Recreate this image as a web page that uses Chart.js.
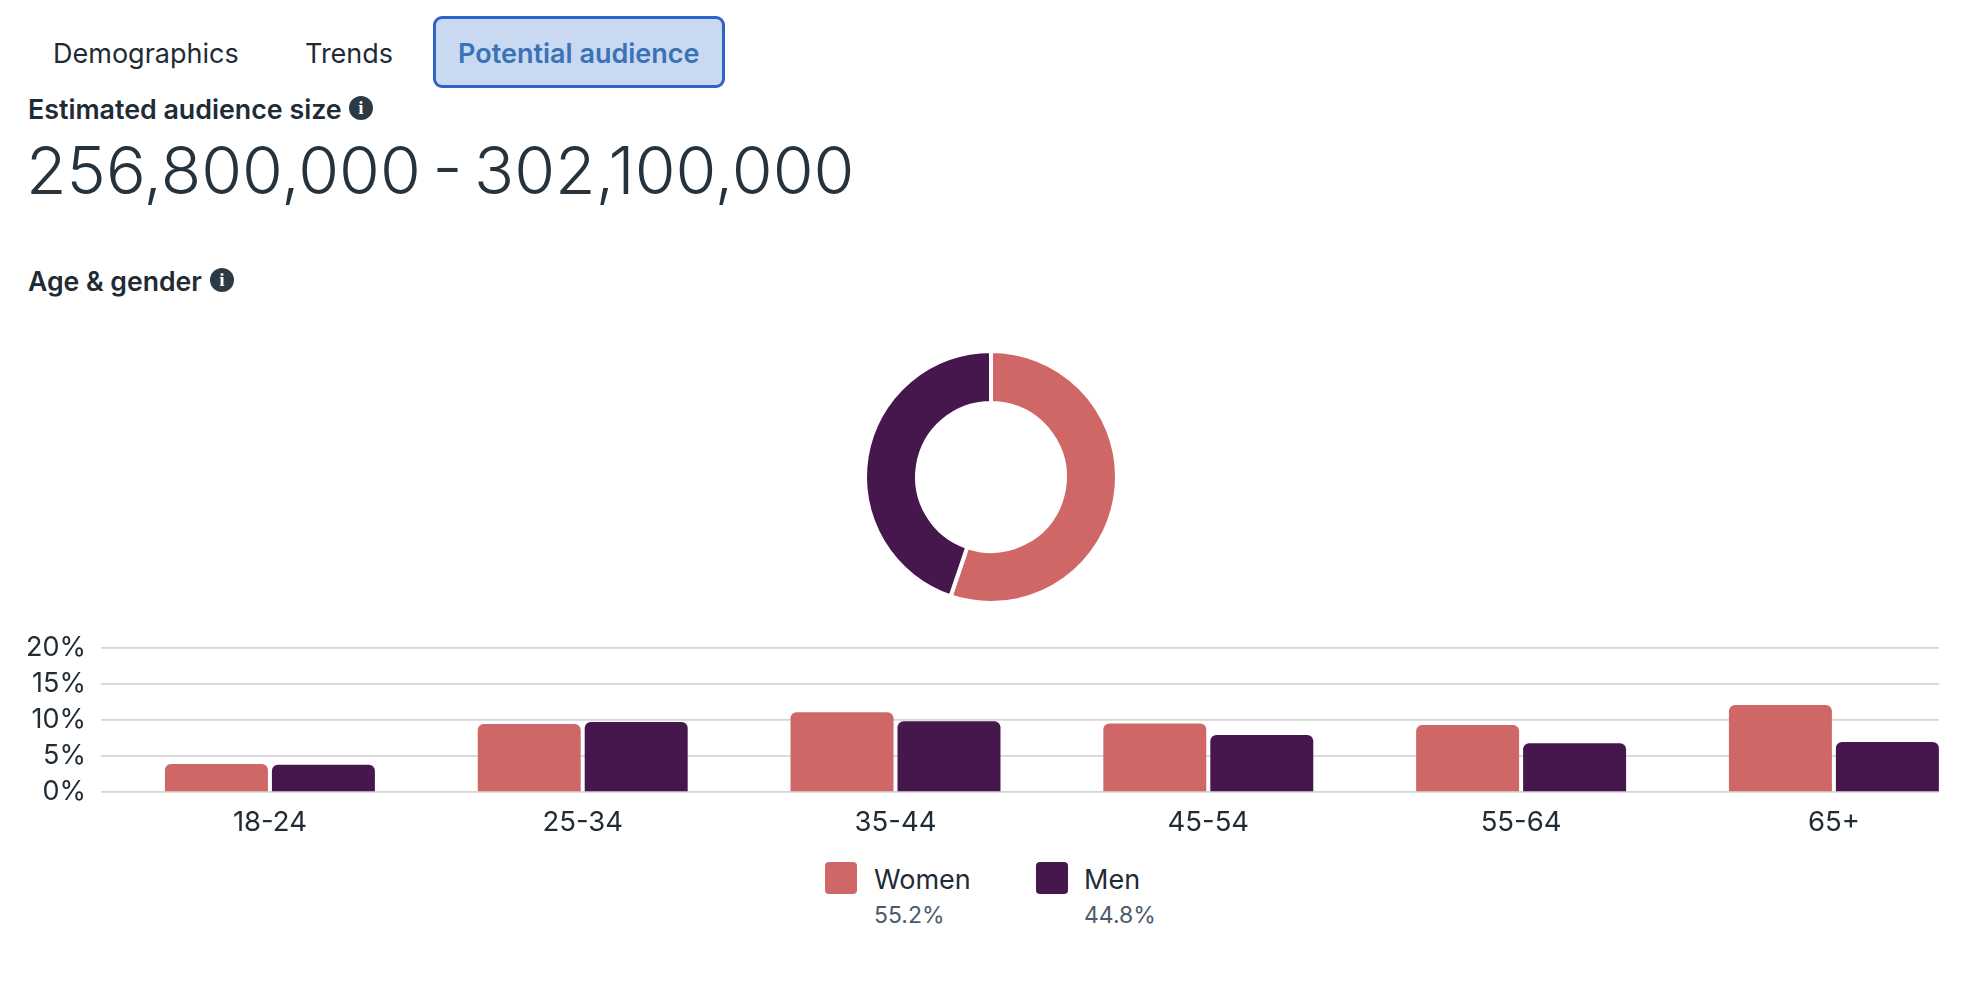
<!DOCTYPE html>
<html>
<head>
<meta charset="utf-8">
<script src="https://cdn.jsdelivr.net/npm/chart.js@4/dist/chart.umd.js"></script>
<style>
html,body{margin:0;padding:0;background:#fff;width:1986px;height:984px;overflow:hidden;font-family:Inter,sans-serif;color:#1f2b35}
.t{position:absolute;white-space:nowrap;line-height:1}
.tabbox{position:absolute;left:433px;top:16px;width:292px;height:72px;box-sizing:border-box;border:3.5px solid #2f63c8;border-radius:9px;background:#c8d9f1}
.info{position:absolute;width:24px;height:24px;border-radius:50%;background:#2b3a45;color:#fff;font:700 19px/24px "Liberation Serif",serif;text-align:center}
.sw{position:absolute;width:32px;height:32px;border-radius:4px}
canvas{display:block}
.cv{position:absolute}
</style>
</head>
<body>
<div class="tabbox"></div>
<span class="t" style="left:53px;top:40px;font-size:27px" id="tab0"></span>
<span class="t" style="left:305px;top:40px;font-size:27px" id="tab1"></span>
<span class="t" style="left:458px;top:40px;font-size:27px;font-weight:600;color:#3a72b6" id="tab2"></span>
<span class="t" style="left:28px;top:96px;font-size:26.8px;font-weight:600">Estimated audience size</span>
<span class="info" style="left:349px;top:96px">i</span>
<span class="t" style="left:26px;top:137px;font-size:66.2px;font-weight:350;word-spacing:-7px;color:#26333d">256,800,000 - 302,100,000</span>
<span class="t" style="left:28px;top:268px;font-size:26.6px;font-weight:600">Age &amp; gender</span>
<span class="info" style="left:210px;top:268px">i</span>

<div class="cv" style="left:841px;top:327px;width:300px;height:300px"><canvas id="donut"></canvas></div>
<div class="cv" style="left:0;top:620px;width:1986px;height:240px"><canvas id="bars"></canvas></div>

<span class="sw" style="left:825px;top:862px" id="sw0"></span>
<span class="t" style="left:874px;top:866px;font-size:27px" id="lg0"></span>
<span class="t" style="left:874px;top:904px;font-size:23px;color:#4b5b6c" id="pc0"></span>
<span class="sw" style="left:1036px;top:862px" id="sw1"></span>
<span class="t" style="left:1084px;top:866px;font-size:27px" id="lg1"></span>
<span class="t" style="left:1084px;top:904px;font-size:23px;color:#4b5b6c" id="pc1"></span>

<script>
const tabs = ["Demographics", "Trends", "Potential audience"];
const ageGroups = ["18-24", "25-34", "35-44", "45-54", "55-64", "65+"];
const women = [3.89, 9.44, 11.07, 9.53, 9.31, 12.08];
const men = [3.8, 9.72, 9.81, 7.92, 6.76, 6.94];
const genderNames = ["Women", "Men"];
const genderShare = [55.2, 44.8];
const genderColors = ["#cf6767", "#45174c"];
const yTicks = [0, 5, 10, 15, 20];

tabs.forEach((s, i) => document.getElementById("tab" + i).textContent = s);
genderNames.forEach((s, i) => {
  document.getElementById("lg" + i).textContent = s;
  document.getElementById("pc" + i).textContent = genderShare[i].toFixed(1) + "%";
  document.getElementById("sw" + i).style.background = genderColors[i];
});

Chart.defaults.font.family = "Inter, sans-serif";
Chart.defaults.animation = false;
Chart.defaults.events = [];

new Chart(document.getElementById("donut"), {
  type: "doughnut",
  data: {
    labels: genderNames,
    datasets: [{ data: genderShare, backgroundColor: genderColors, borderColor: "#ffffff", borderWidth: 4 }]
  },
  options: {
    responsive: true,
    maintainAspectRatio: false,
    radius: 126,
    cutout: "58.7%",
    plugins: { legend: { display: false }, tooltip: { enabled: false } }
  }
});

const topRound = { topLeft: 6, topRight: 6, bottomLeft: 0, bottomRight: 0 };
new Chart(document.getElementById("bars"), {
  type: "bar",
  data: {
    labels: ageGroups,
    datasets: [
      { label: genderNames[0], data: women, backgroundColor: genderColors[0], borderRadius: topRound, borderSkipped: false },
      { label: genderNames[1], data: men, backgroundColor: genderColors[1], borderRadius: topRound, borderSkipped: false }
    ]
  },
  options: {
    responsive: true,
    maintainAspectRatio: false,
    categoryPercentage: 0.684,
    barPercentage: 0.9626,
    layout: { padding: { top: 28, right: 47, left: 0, bottom: 0 } },
    plugins: { legend: { display: false }, tooltip: { enabled: false } },
    scales: {
      x: {
        grid: { display: false, drawTicks: false },
        border: { display: false },
        ticks: { color: "#1f2b35", font: { size: 27.5 }, padding: 14, maxRotation: 0, autoSkip: false },
        afterFit(s) { s.height = 68; s.paddingLeft = 0; s.paddingRight = 0; },
        afterBuildTicks(s) { s._startValue = -0.54; s._valueRange = 5.876; }
      },
      y: {
        min: 0, max: 20,
        afterBuildTicks(s) { s.ticks = yTicks.map(v => ({ value: v })); },
        grid: { color: "#d6d6d6", lineWidth: 1.7, drawTicks: false },
        border: { display: false },
        ticks: { color: "#1f2b35", font: { size: 27 }, padding: 15, autoSkip: false, callback: v => v + "%" },
        afterFit(s) { s.width = 101; s.paddingTop = 0; s.paddingBottom = 0; }
      }
    }
  }
});
</script>
</body>
</html>
